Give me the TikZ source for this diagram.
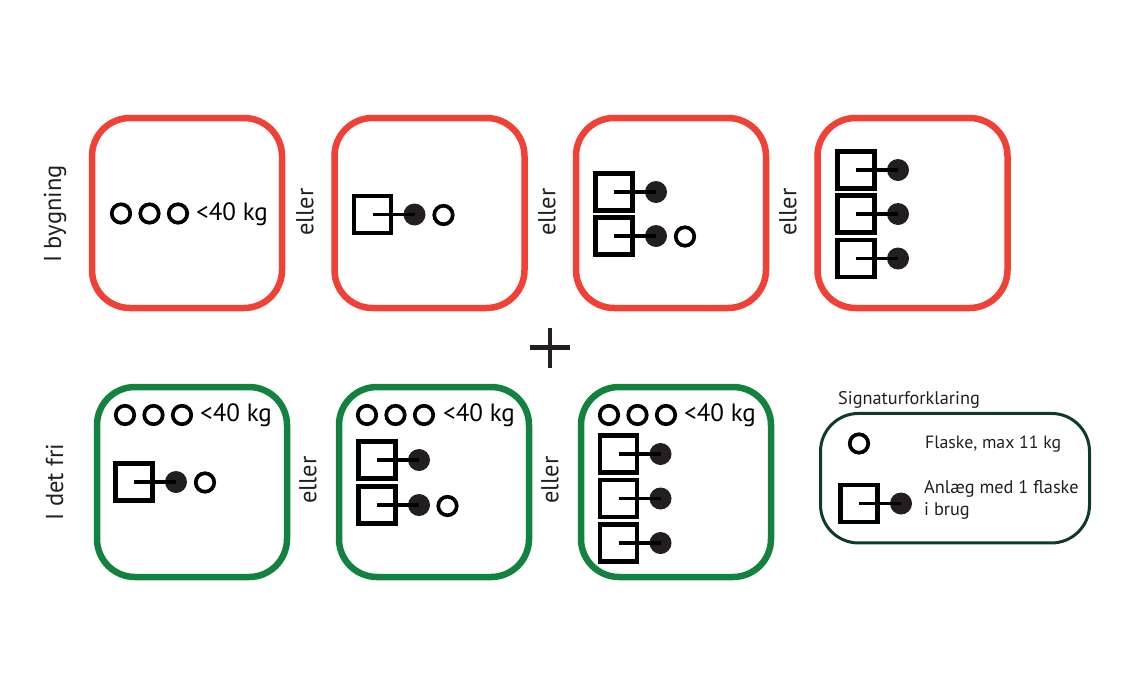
\documentclass[tikz,border=0pt]{standalone}
\usepackage{fontspec}
\setmainfont{PT Sans}
\definecolor{redb}{HTML}{EF4136}
\definecolor{greenb}{HTML}{13823F}
\definecolor{legb}{HTML}{0F3A2C}
\definecolor{dotc}{HTML}{231F20}
\tikzset{
  x=1pt,y=-1pt,
  panel/.style={draw,line width=6.5pt,minimum width=190pt,minimum height=190pt,rounded corners=38pt,inner sep=0pt,outer sep=0pt},
  redpanel/.style={panel,draw=redb},
  greenpanel/.style={panel,draw=greenb},
  legendbox/.style={draw=legb,line width=3pt,minimum width=269pt,minimum height=129.5pt,rounded corners=38pt,inner sep=0pt,outer sep=0pt},
  sq/.style={draw=black,line width=4.2pt,minimum size=37pt,inner sep=0pt,outer sep=0pt},
  full/.style={circle,fill=dotc,minimum size=22pt,inner sep=0pt,outer sep=0pt},
  empty/.style={circle,draw=black,line width=3.7pt,minimum size=18.5pt,inner sep=0pt,outer sep=0pt},
  pipe/.style={draw=black,line width=3.5pt},
  kg/.style={anchor=base west,inner sep=0pt,font=\fontsize{25}{28}\selectfont},
  vert/.style={rotate=90,inner sep=0pt,font=\fontsize{24.5}{27}\selectfont,text=dotc},
  leg/.style={anchor=base west,inner sep=0pt,font=\fontsize{18.3}{22}\selectfont,text=dotc},
  unit/.pic={
    \node[sq] (-s) at (0,0) {};
    \node[full] (-d) at (42,0) {};
    \draw[pipe] (-s.center) -- (-d.center);
  },
  trio/.pic={
    \node[empty] (-a) at (0,0) {};
    \node[empty] (-b) at (28.5,0) {};
    \node[empty] (-c) at (57,0) {};
  }
}
\begin{document}
\begin{tikzpicture}
\useasboundingbox (0,0) rectangle (1146,694);
% panels
\node[redpanel] (r1) at (187,213) {};
\node[redpanel] (r2) at (429.5,213) {};
\node[redpanel] (r3) at (671,213) {};
\node[redpanel] (r4) at (912.5,213) {};
\node[greenpanel] (g1) at (192,482) {};
\node[greenpanel] (g2) at (434,482) {};
\node[greenpanel] (g3) at (676,482) {};
% red row
\pic (t1) at (121,213.5) {trio};
\node[kg] (k1) at (196,220) {<40 kg};
\pic (u1) at (372.5,214.5) {unit};
\node[empty] (e1) at (443.5,215) {};
\pic (u2) at (614,192) {unit};
\pic (u3) at (614,236) {unit};
\node[empty] (e2) at (685,236.5) {};
\pic (u4) at (856,170) {unit};
\pic (u5) at (856,214) {unit};
\pic (u6) at (856,258.5) {unit};
% green row
\pic (t2) at (125,415) {trio};
\node[kg] (k2) at (200,421.5) {<40 kg};
\pic (u7) at (134,482) {unit};
\node[empty] (e3) at (205,482.5) {};
\pic (t3) at (367,415) {trio};
\node[kg] (k3) at (443,421.5) {<40 kg};
\pic (u8) at (377,460) {unit};
\pic (u9) at (377,505) {unit};
\node[empty] (e4) at (447.5,506) {};
\pic (t4) at (609,415) {trio};
\node[kg] (k4) at (684,421.5) {<40 kg};
\pic (u10) at (618.5,454) {unit};
\pic (u11) at (618.5,498.5) {unit};
\pic (u12) at (618.5,543) {unit};
% eller
\node[vert] (o1) at (305,212) {eller};
\node[vert] (o2) at (547,212) {eller};
\node[vert] (o3) at (788,212) {eller};
\node[vert] (o4) at (308,480) {eller};
\node[vert] (o5) at (550,480) {eller};
\node[vert] (l1) at (55,214) {I bygning};
\node[vert] (l2) at (54.5,482) {I det fri};
% plus
\node[inner sep=0pt] (pc) at (550,347.5) {};
\draw[line width=4.5pt,draw=dotc] ([xshift=-20pt]pc.center) -- ([xshift=20pt]pc.center);
\draw[line width=4.5pt,draw=dotc] ([yshift=-20pt]pc.center) -- ([yshift=20pt]pc.center);
% legend
\node[legendbox] (lg) at (955,478.2) {};
\node[leg] (lt) at (838,404) {Signaturforklaring};
\node[empty] (le) at (859,443.5) {};
\node[leg,font=\fontsize{17.8}{22}\selectfont] (lf) at (925,448) {Flaske, max 11 kg};
\pic (lu) at (859,503.5) {unit};
\node[leg] (la1) at (924,493) {Anlæg med 1 flaske};
\node[leg] (la2) at (924,515.5) {i brug};
\end{tikzpicture}
\end{document}
